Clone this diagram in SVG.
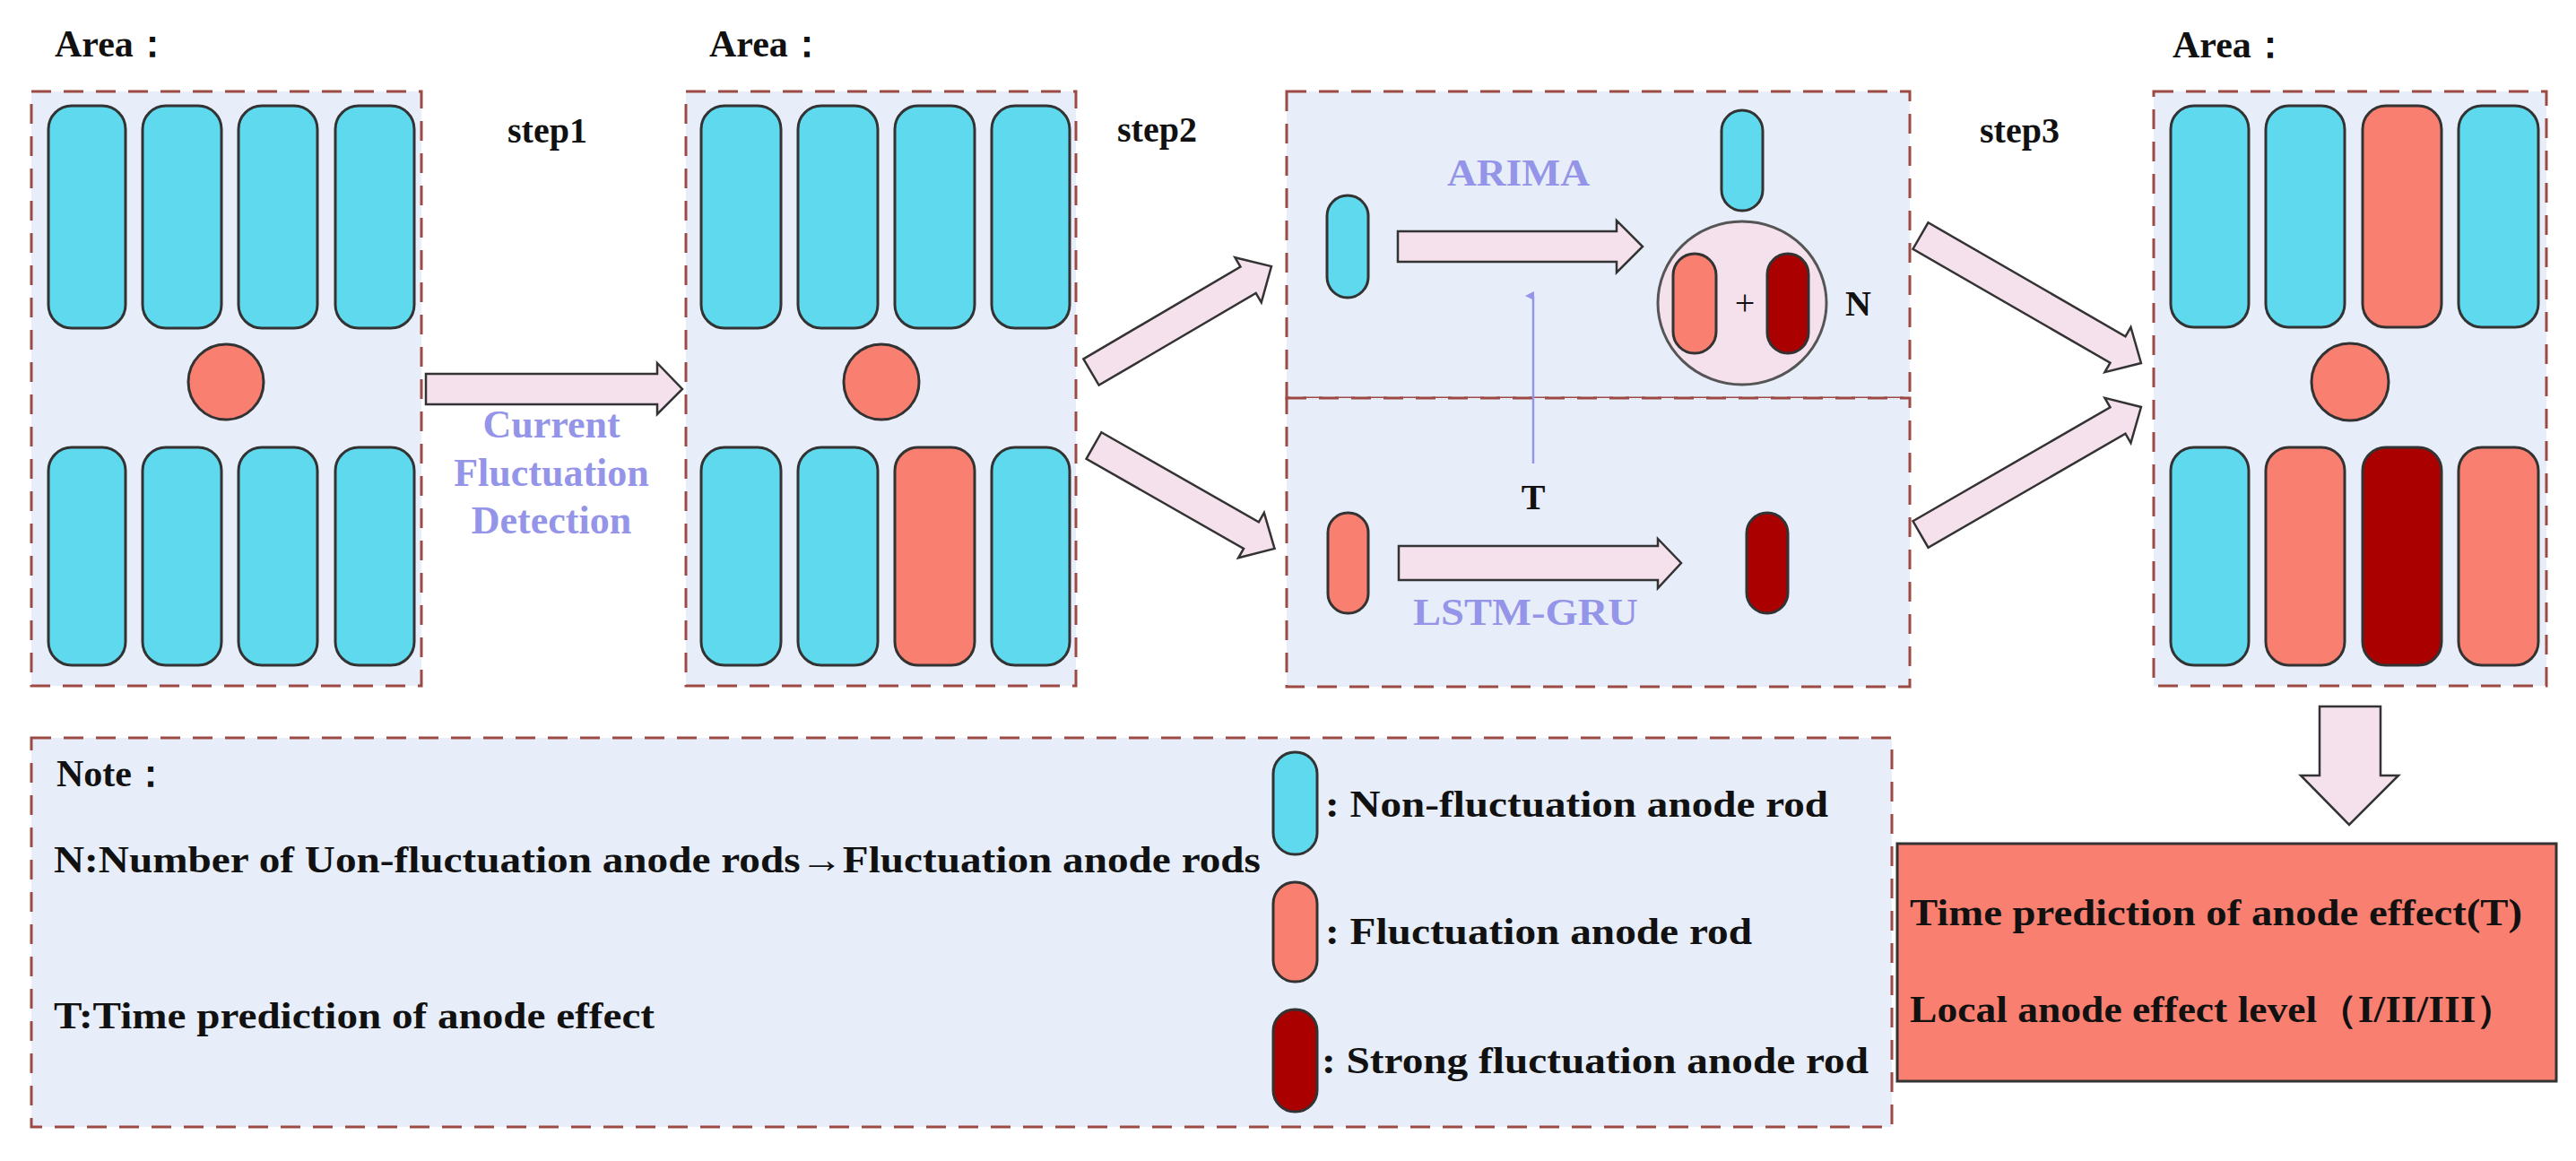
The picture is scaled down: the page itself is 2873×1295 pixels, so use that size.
<svg xmlns="http://www.w3.org/2000/svg" width="2873" height="1295" viewBox="0 0 2873 1295">
<defs>
<style>
.panel{fill:#e7eef9;stroke:#9e4a44;stroke-width:3;stroke-dasharray:22 14}
.c{fill:#5ed9ee;stroke:#333;stroke-width:3}
.s{fill:#f98070;stroke:#333;stroke-width:3}
.d{fill:#aa0000;stroke:#333;stroke-width:3}
.arr{fill:#f5e1ec;stroke:#333;stroke-width:2.5}
.t{font-family:"Liberation Serif","Times New Roman",serif;font-weight:bold;fill:#111}
.lav{font-family:"Liberation Serif","Times New Roman",serif;font-weight:bold;fill:#9494e8}
</style>
<marker id="ah" markerWidth="10" markerHeight="10" refX="5" refY="9" orient="auto-start-reverse" markerUnits="userSpaceOnUse" viewBox="0 0 10 10"><path d="M0,10 L5,0 L10,10 Z" fill="#9494e8"/></marker>
</defs>
<rect width="2873" height="1295" fill="#fff"/>

<g id="area1">
<text class="t" x="61" y="63" font-size="42">Area：</text>
<rect class="panel" x="35" y="102" width="435" height="663"/>
<rect class="c" x="54" y="118" width="86" height="248" rx="26"/>
<rect class="c" x="159" y="118" width="88" height="248" rx="26"/>
<rect class="c" x="266" y="118" width="88" height="248" rx="26"/>
<rect class="c" x="374" y="118" width="88" height="248" rx="26"/>
<circle class="s" cx="252" cy="426" r="42"/>
<rect class="c" x="54" y="499" width="86" height="243" rx="26"/>
<rect class="c" x="159" y="499" width="88" height="243" rx="26"/>
<rect class="c" x="266" y="499" width="88" height="243" rx="26"/>
<rect class="c" x="374" y="499" width="88" height="243" rx="26"/>
</g>

<g id="area2">
<text class="t" x="791" y="63" font-size="42">Area：</text>
<rect class="panel" x="765" y="102" width="435" height="663"/>
<rect class="c" x="782" y="118" width="89" height="248" rx="26"/>
<rect class="c" x="890" y="118" width="89" height="248" rx="26"/>
<rect class="c" x="998" y="118" width="89" height="248" rx="26"/>
<rect class="c" x="1106" y="118" width="87" height="248" rx="26"/>
<circle class="s" cx="983" cy="426" r="42"/>
<rect class="c" x="782" y="499" width="89" height="243" rx="26"/>
<rect class="c" x="890" y="499" width="89" height="243" rx="26"/>
<rect class="s" x="998" y="499" width="89" height="243" rx="26"/>
<rect class="c" x="1106" y="499" width="87" height="243" rx="26"/>
</g>

<g id="area3">
<rect class="panel" x="1435" y="102" width="695" height="342"/>
<rect class="panel" x="1435" y="444" width="695" height="322"/>
<rect class="c" x="1480" y="218" width="46" height="114" rx="23"/>
<rect class="c" x="1920" y="123" width="46" height="112" rx="23"/>
<ellipse cx="1943" cy="338" rx="94" ry="91" fill="#f5e1ec" stroke="#555" stroke-width="3"/>
<rect class="s" x="1866" y="283" width="48" height="111" rx="24"/>
<rect class="d" x="1971" y="283" width="46" height="111" rx="23"/>
<text x="1946" y="351" font-size="40" text-anchor="middle" font-family="Liberation Serif, serif" fill="#111">+</text>
<text class="t" x="2058" y="352" font-size="40">N</text>
<text class="lav" x="1614" y="207" font-size="42" textLength="159" lengthAdjust="spacingAndGlyphs">ARIMA</text>
<rect class="s" x="1481" y="572" width="45" height="112" rx="22"/>
<rect class="d" x="1948" y="572" width="46" height="112" rx="23"/>
<text class="t" x="1710" y="568" font-size="40" text-anchor="middle">T</text>
<text class="lav" x="1576" y="697" font-size="42" textLength="251" lengthAdjust="spacingAndGlyphs">LSTM-GRU</text>
</g>

<g id="area4">
<text class="t" x="2423" y="64" font-size="42">Area：</text>
<rect class="panel" x="2402" y="102" width="438" height="663"/>
<rect class="c" x="2421" y="118" width="87" height="247" rx="26"/>
<rect class="c" x="2527" y="118" width="88" height="247" rx="26"/>
<rect class="s" x="2635" y="118" width="88" height="247" rx="26"/>
<rect class="c" x="2742" y="118" width="89" height="247" rx="26"/>
<circle class="s" cx="2621" cy="426" r="43"/>
<rect class="c" x="2421" y="499" width="87" height="243" rx="26"/>
<rect class="s" x="2527" y="499" width="88" height="243" rx="26"/>
<rect class="d" x="2635" y="499" width="88" height="243" rx="26"/>
<rect class="s" x="2742" y="499" width="89" height="243" rx="26"/>
</g>

<g id="labels">
<text class="t" x="566" y="159" font-size="40">step1</text>
<text class="t" x="1246" y="158" font-size="40">step2</text>
<text class="t" x="2208" y="159" font-size="40">step3</text>
<text class="lav" x="615" y="488" font-size="44" text-anchor="middle">Current</text>
<text class="lav" x="615" y="542" font-size="44" text-anchor="middle">Fluctuation</text>
<text class="lav" x="615" y="595" font-size="44" text-anchor="middle">Detection</text>
</g>

<g id="connectors">
<path class="arr" d="M475,417 L733,417 L733,405 L761,434 L733,462 L733,451 L475,451 Z"/>
<path class="arr" d="M1559,258 L1803,258 L1803,246 L1832,275 L1803,304 L1803,292 L1559,292 Z"/>
<path class="arr" d="M1560,609 L1849,609 L1849,601 L1875,628 L1849,656 L1849,647 L1560,647 Z"/>
<g transform="translate(1217,415) rotate(-30.4)"><path class="arr" d="M0,-17 L203,-17 L203,-29 L233,0 L203,29 L203,17 L0,17 Z"/></g>
<g transform="translate(1220,497) rotate(29.7)"><path class="arr" d="M0,-17 L202,-17 L202,-29 L232,0 L202,29 L202,17 L0,17 Z"/></g>
<g transform="translate(2142,263) rotate(30)"><path class="arr" d="M0,-17 L254,-17 L254,-29 L284,0 L254,29 L254,17 L0,17 Z"/></g>
<g transform="translate(2142,596) rotate(-30)"><path class="arr" d="M0,-17 L254,-17 L254,-29 L284,0 L254,29 L254,17 L0,17 Z"/></g>
<path class="arr" d="M2587,788 L2655,788 L2655,865 L2675,865 L2620,920 L2566,865 L2587,865 Z"/>
<line x1="1710" y1="517" x2="1710" y2="330" stroke="#9494e8" stroke-width="2.5" marker-end="url(#ah)"/>
</g>

<g id="note">
<rect class="panel" x="35" y="823" width="2075" height="434"/>
<text class="t" x="63" y="877" font-size="42">Note：</text>
<text class="t" x="60" y="973" font-size="42" textLength="1346" lengthAdjust="spacingAndGlyphs">N:Number of Uon-fluctuation anode rods→Fluctuation anode rods</text>
<text class="t" x="60" y="1147" font-size="42" textLength="670" lengthAdjust="spacingAndGlyphs">T:Time prediction of anode effect</text>
<rect class="c" x="1420" y="839" width="49" height="114" rx="24"/>
<rect class="s" x="1420" y="984" width="49" height="111" rx="24"/>
<rect class="d" x="1420" y="1126" width="49" height="114" rx="24"/>
<text class="t" x="1478" y="911" font-size="42" textLength="561" lengthAdjust="spacingAndGlyphs">: Non-fluctuation anode rod</text>
<text class="t" x="1478" y="1053" font-size="42" textLength="476" lengthAdjust="spacingAndGlyphs">: Fluctuation anode rod</text>
<text class="t" x="1474" y="1197" font-size="42" textLength="610" lengthAdjust="spacingAndGlyphs">: Strong fluctuation anode rod</text>
</g>

<g id="result">
<rect x="2116" y="941" width="735" height="265" fill="#f98070" stroke="#333" stroke-width="3"/>
<text class="t" x="2130" y="1032" font-size="42" textLength="683" lengthAdjust="spacingAndGlyphs">Time prediction of anode effect(T)</text>
<text class="t" x="2130" y="1140" font-size="42" textLength="677" lengthAdjust="spacingAndGlyphs">Local anode effect level（I/II/III）</text>
</g>
</svg>
